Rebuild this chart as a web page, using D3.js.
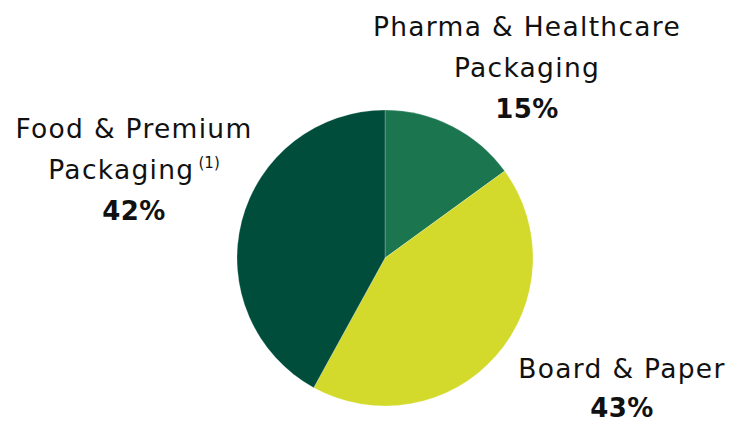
<!DOCTYPE html>
<html>
<head>
<meta charset="utf-8">
<script src="https://cdn.jsdelivr.net/npm/d3@7"></script>
<style>
  body { margin: 0; background: #fff; }
  svg { display: block; }
  .lbl { font-family: "DejaVu Sans", sans-serif; font-size: 26.5px; letter-spacing: 1.3px; fill: #111; }
  .pct { font-family: "DejaVu Sans", sans-serif; font-size: 26px; font-weight: bold; letter-spacing: 0.5px; fill: #111; }
</style>
</head>
<body>
<script>
// segment data
var segments = ['Pharma & Healthcare Packaging', 'Board & Paper', 'Food & Premium Packaging'];
var shares = [15, 43, 42];
var colours = ['#1b7650', '#d4da2b', '#004d3b'];

// label lines per segment
var labelLines = [
  ['Pharma & Healthcare', 'Packaging'],
  ['Board & Paper'],
  ['Food & Premium', 'Packaging']
];
var labelNotes = ['', '', '(1)'];
var labelPos = [[527, 36], [622, 378], [134, 138]];

var width = 730, height = 424;
var cx = 385, cy = 258, radius = 148;

var svg = d3.select('body').append('svg')
  .attr('width', width)
  .attr('height', height);

var pie = d3.pie().sort(null).value(function(d){ return d; });
var arc = d3.arc().innerRadius(0).outerRadius(radius);

svg.append('g')
  .attr('transform', 'translate(' + cx + ',' + cy + ')')
  .selectAll('path')
  .data(pie(shares))
  .enter().append('path')
    .attr('d', arc)
    .attr('fill', function(d, i){ return colours[i]; })
    .attr('stroke', '#ffffff')
    .attr('stroke-opacity', 0.4)
    .attr('stroke-width', 0.6);

// labels
segments.forEach(function(name, i){
  var x = labelPos[i][0], y = labelPos[i][1];
  var lines = labelLines[i];
  lines.forEach(function(line, j){
    var t = svg.append('text')
      .attr('class', 'lbl')
      .attr('x', x)
      .attr('y', y + j * 41)
      .attr('text-anchor', 'middle');
    t.append('tspan').text(line);
    if (j === lines.length - 1 && labelNotes[i]) {
      t.append('tspan')
        .attr('dx', 4)
        .attr('dy', -11)
        .attr('font-size', 15)
        .attr('letter-spacing', 0)
        .text(labelNotes[i]);
    }
  });
  svg.append('text')
    .attr('class', 'pct')
    .attr('x', x)
    .attr('y', y + lines.length * 41 + (lines.length === 1 ? -2 : 0))
    .attr('text-anchor', 'middle')
    .text(shares[i] + '%');
});
</script>
</body>
</html>
